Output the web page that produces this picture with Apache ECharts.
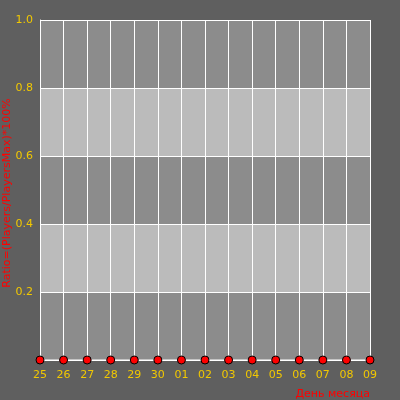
<!DOCTYPE html>
<html><head><meta charset="utf-8">
<script src="https://cdn.jsdelivr.net/npm/echarts@6/dist/echarts.min.js"></script>
<style>html,body{margin:0;padding:0;background:#5f5f5f}#c{width:400px;height:400px}</style>
</head><body><div id="c"></div>
<script>
const categories = ['25','26','27','28','29','30','01','02','03','04','05','06','07','08','09'];
const ratioValues = [0,0,0,0,0,0,0,0,0,0,0,0,0,0,0];
const yTicks = {min:0, max:1, interval:0.2};
const chart = echarts.init(document.getElementById('c'), null, {renderer:'canvas'});
const font = 'DejaVu Sans';
chart.setOption({
  backgroundColor:'#5f5f5f',
  animation:false,
  grid:{left:40, right:30, top:20, bottom:40, containLabel:false, outerBoundsMode:'none'},
  xAxis:{
    type:'category', data:categories, boundaryGap:false,
    name:'День месяца', nameLocation:'end', nameGap:0, nameMoveOverlap:false,
    nameTextStyle:{color:'#ff0000', fontFamily:font, fontSize:11, align:'right', verticalAlign:'top', padding:[29,0,0,0]},
    axisLine:{show:true, lineStyle:{color:'#ffffff', width:1}},
    axisTick:{show:false},
    axisLabel:{color:'#f2c800', fontFamily:font, fontSize:11, margin:10},
    splitLine:{show:true, lineStyle:{color:'#ffffff', width:1}}
  },
  yAxis:{
    type:'value', min:yTicks.min, max:yTicks.max, interval:yTicks.interval,
    name:'Ratio=(Players/PlayersMax)*100%', nameLocation:'middle', nameGap:27, nameMoveOverlap:false,
    nameTextStyle:{color:'#ff0000', fontFamily:font, fontSize:11, padding:[0,0,0,-6]},
    axisLine:{show:true, lineStyle:{color:'#ffffff', width:1}},
    axisTick:{show:false},
    axisLabel:{color:'#f2c800', fontFamily:font, fontSize:11, margin:7, formatter:v=>v===0?'':v.toFixed(1)},
    splitLine:{show:true, lineStyle:{color:'#ffffff', width:1}},
    splitArea:{show:true, areaStyle:{color:['#8c8c8c','#bbbbbb']}}
  },
  series:[{
    type:'line', data:ratioValues, symbol:'circle', symbolSize:8,
    lineStyle:{color:'#ffffff', width:1},
    itemStyle:{color:'#ff0000', borderColor:'#000000', borderWidth:1}
  }]
});
</script></body></html>
